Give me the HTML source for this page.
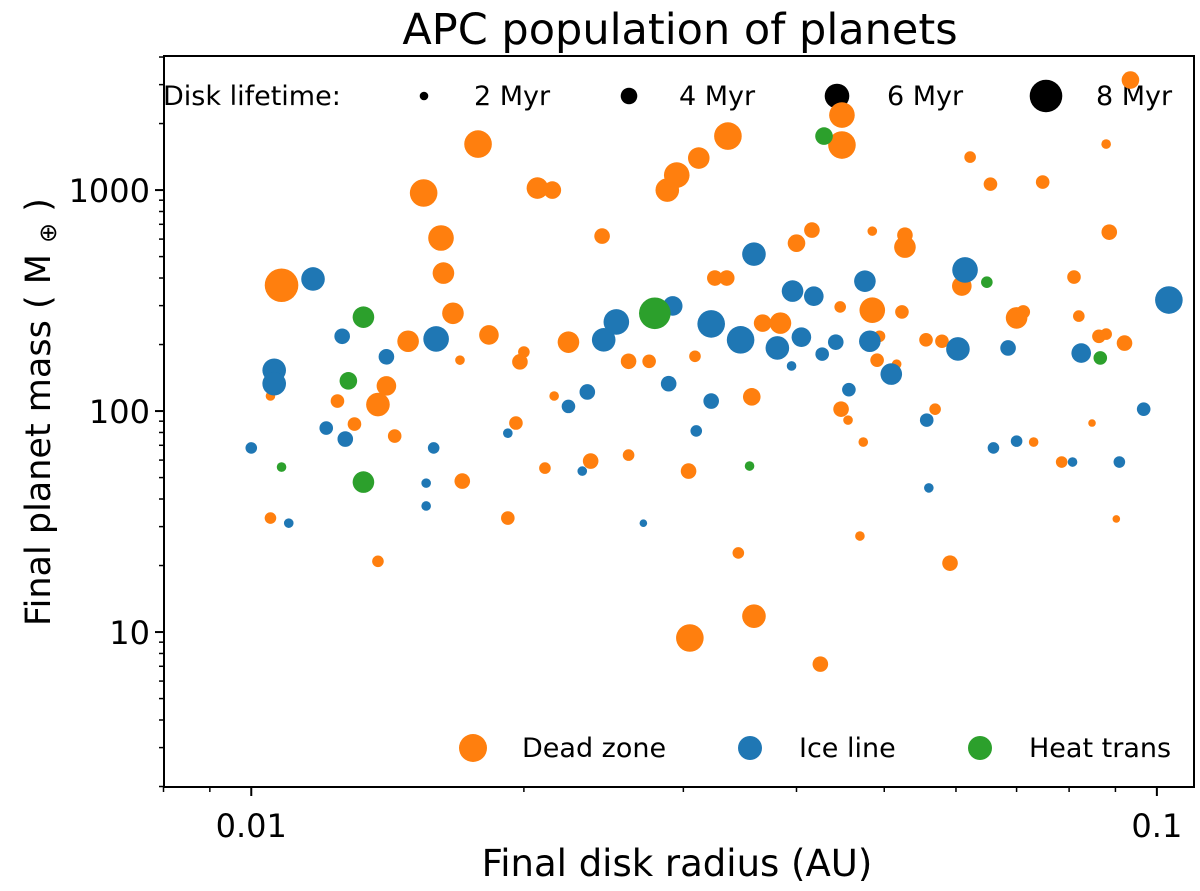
<!DOCTYPE html>
<html><head><meta charset="utf-8"><style>
html,body{margin:0;padding:0;background:#fff;}
svg{display:block;font-family:"DejaVu Sans","Liberation Sans",sans-serif;}
</style></head><body>
<svg id="chart" width="1200" height="891" viewBox="0 0 1200 891">
<text x="680" y="44" font-size="43" text-anchor="middle">APC population of planets</text>
<g id="ticks"></g>
<g id="legendTop">
<text x="163" y="105" font-size="27">Disk lifetime:</text>
</g>
<g id="marks"></g>
<g id="legendBottom"></g>
<rect x="164" y="56" width="1030" height="731" fill="none" stroke="#000" stroke-width="2"/>
<text x="677" y="876" font-size="37" text-anchor="middle">Final disk radius (AU)</text>
<text transform="translate(50,412) rotate(-90)" font-size="35" text-anchor="middle" xml:space="preserve">Final planet mass ( M <tspan font-size="24" dy="6">⊕</tspan><tspan dy="-6"> )</tspan></text>
</svg>
<script>
// Dead zone (orange)
const deadX=[0.0108,0.0105,0.0105,0.01245,0.0130,0.0138,0.0141,0.0138,0.0144,0.0149,0.0155,0.0162,0.0163,0.0167,0.0171,0.0170,0.0178,0.0183,0.0192,0.0196,0.0198,0.0200,0.0207,0.0211,0.0215,0.0216,0.0224,0.0237,0.0244,0.0261,0.0261,0.0275,0.0288,0.0295,0.0312,0.0304,0.0309,0.0305,0.0325,0.0335,0.0336,0.0345,0.0357,0.0367,0.0359,0.0384,0.0400,0.0416,0.0425,0.0448,0.0449,0.0449,0.0456,0.0447,0.0470,0.0474,0.0485,0.0485,0.0491,0.0494,0.0516,0.0523,0.0527,0.0527,0.0569,0.0556,0.0579,0.0591,0.0609,0.0622,0.0655,0.0700,0.0712,0.0731,0.0748,0.0785,0.0810,0.0820,0.0848,0.0863,0.0879,0.0886,0.0879,0.0902,0.0921,0.0935];
const deadY=[371,117,32.8,111,87.3,107,130,20.9,77.1,207,970,607,421,277,48.2,170,1615,221,32.8,88.3,167,185,1021,55.2,1000,117,205,59.4,619,63.2,168,168,1000,1169,1396,53.5,177,9.4,400,400,1755,22.8,116,250,11.8,250,575,659,7.16,102,2184,1599,91,296,27.2,72.4,286,652,170,218,163,281,552,625,102,210,207,20.5,368,1410,1064,264,281,72.4,1087,58.8,404,269,88.3,218,223,645,1615,32.5,203,3147];
const deadT=[8,2,2.5,3,3,5.5,4.5,2.5,3,5,6.5,6,5,5,3.5,2,6.5,4.5,3,3,3.5,2.5,5,2.5,4,2,5,3.5,3.5,2.5,3.5,3,5.5,6,5,3.5,2.5,6.5,3.5,3.5,6.5,2.5,4,4,5.5,5,4,3.5,3.5,3.5,6,6.5,2,2.5,2,2,6,2,3,2.5,2,3,5,3.5,2.5,3,3,3.5,4.5,2.5,3,5,3,2,3,2.5,3,2.5,1.5,3,2.5,3.5,2,1.5,3.5,4];
// Ice line (blue)
const iceX=[0.0100,0.0106,0.0106,0.0110,0.0117,0.0121,0.0126,0.0127,0.0141,0.0156,0.0156,0.0159,0.0160,0.0192,0.0224,0.0232,0.0235,0.0245,0.0253,0.0271,0.0289,0.0292,0.0310,0.0322,0.0322,0.0347,0.0359,0.0381,0.0395,0.0396,0.0405,0.0418,0.0427,0.0442,0.0457,0.0476,0.0482,0.0509,0.0557,0.0560,0.0603,0.0614,0.0660,0.0685,0.0700,0.0825,0.0807,0.0909,0.0967,0.1031];
const iceY=[68.1,153,133,31.1,396,83.8,218,74.7,176,47.2,37.2,68.1,212,79.4,105,53.5,122,210,253,31.1,133,299,81.3,111,248,210,513,193,160,349,216,331,181,205,125,387,207,147,91,44.9,191,435,68.1,193,73.1,183,58.8,58.8,102,318];
const iceT=[2.5,5.5,5.5,2,5.5,3,3.5,3.5,3.5,2,2,2.5,6,2,3,2,3.5,5.5,6,1.5,3.5,4.5,2.5,3.5,6.5,6.5,5.5,5.5,2,5,4.5,4.5,3,3.5,3,5,5,5,3,2,5.5,6,2.5,3.5,2.5,4.5,2,2.5,3,6.5];
// Heat transition (green)
const heatX=[0.0108,0.0128,0.0133,0.0133,0.0279,0.0355,0.0429,0.0649,0.0866];
const heatY=[55.8,137,266,47.7,277,56.4,1755,383,174];
const heatT=[2,4,5,5,7.5,2,4,2.5,3];
const legendLifetimes=[2,4,6,8];
const xTicks=[0.01,0.1];
const xTickLabels=["0.01","0.1"];
const yTicks=[10,100,1000];
const yTickLabels=["10","100","1000"];

const NS="http://www.w3.org/2000/svg";
const L=164,R=1194,T=56,B=787;
const xMin=Math.log10(0.00801),xMax=Math.log10(0.1099);
const yMin=Math.log10(1.99),yMax=Math.log10(4043);
const sx=v=>L+(Math.log10(v)-xMin)/(xMax-xMin)*(R-L);
const sy=v=>B-(Math.log10(v)-yMin)/(yMax-yMin)*(B-T);
const rad=t=>2*t+0.8;
function mk(tag,attrs,parent){const e=document.createElementNS(NS,tag);for(const k in attrs)e.setAttribute(k,attrs[k]);parent.appendChild(e);return e;}
const tk=document.getElementById('ticks');
for(let d=-3;d<=-1;d++){for(let m=1;m<10;m++){const v=m*Math.pow(10,d);if(v<0.0079||v>0.111)continue;const x=sx(v);
 const ln=mk('line',{x1:x,x2:x,y1:B,y2:B+(m===1?9:5),stroke:'#000','stroke-width':m===1?2:1.5},tk);
 
 }}
xTicks.forEach((v,i)=>{const t=mk('text',{x:sx(v),y:B+50,'font-size':32,'text-anchor':'middle'},tk);t.textContent=xTickLabels[i];
 
 });
for(let d=0;d<=3;d++){for(let m=1;m<10;m++){const v=m*Math.pow(10,d);if(v<1.99||v>4043)continue;const y=sy(v);
 const ln=mk('line',{x1:L-(m===1?9:5),x2:L,y1:y,y2:y,stroke:'#000','stroke-width':m===1?2:1.5},tk);
 
 }}
yTicks.forEach((v,i)=>{const t=mk('text',{x:L-14,y:sy(v)+12,'font-size':32,'text-anchor':'end'},tk);t.textContent=yTickLabels[i];
 
 });
const lt=document.getElementById('legendTop');
const lx=[424,629,837,1046];
legendLifetimes.forEach((t,i)=>{const c=mk('circle',{cx:lx[i],cy:96,r:rad(t)-0.5,fill:'#000'},lt);
 
 
 const tx=mk('text',{x:lx[i]+50,y:105,'font-size':27},lt);tx.textContent=t+' Myr';
 
 });
const mg=document.getElementById('marks');
function series(X,Y,Tt,col,name){X.forEach((x,i)=>{const c=mk('circle',{cx:sx(x),cy:sy(Y[i]),r:rad(Tt[i]),fill:col},mg);
 
 });}
series(deadX,deadY,deadT,'#ff7f0e','dead-zone-point');
series(iceX,iceY,iceT,'#1f77b4','ice-line-point');
series(heatX,heatY,heatT,'#2ca02c','heat-trans-point');
const lb=document.getElementById('legendBottom');
[[473,14,'#ff7f0e','Dead zone'],[750,12,'#1f77b4','Ice line'],[980,12,'#2ca02c','Heat trans']].forEach(e=>{
 const c=mk('circle',{cx:e[0],cy:748,r:e[1],fill:e[2]},lb);
 
 
 const t=mk('text',{x:e[0]+49,y:757,'font-size':27},lb);t.textContent=e[3];
 
 });
</script>
</body></html>
